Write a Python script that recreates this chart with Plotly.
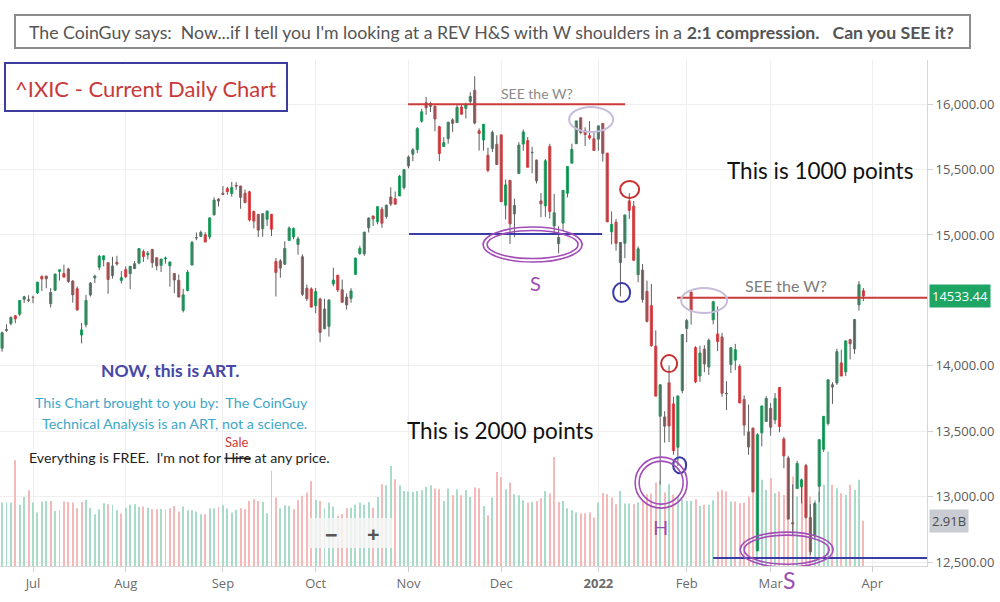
import math
import pandas as pd
import plotly.graph_objects as go

# ---------------- data ----------------
holidays = ["2021-07-05", "2021-09-06", "2021-11-25", "2021-12-24",
            "2022-01-17", "2022-02-21", "2022-04-15"]

open_ = [14135,14278,14323,14383,14395,14509,14500,14524,14558,14683,14686,14475,14578,14722,14706,14740,14648,14589,14236,14314,
         14542,14672,14754,14810,14788,14690,14791,14653,14735,14704,14743,14785,14873,14848,14890,14826,14768,14818,14764,14706,
         14653,14424,14576,14770,14978,14990,15002,14985,15154,15274,15318,15354,15317,15378,15374,15319,15329,15179,15157,15048,
         15120,15158,14798,14802,14777,14958,14985,14928,14833,14593,14588,14460,14511,14283,14303,14626,14693,14581,14525,14516,
         14699,14858,14856,15055,15144,15100,15197,15140,15290,15276,15298,15361,15527,15617,15652,15869,16009,16003,15983,15826,
         15676,15735,15879,15858,15977,15967,16020,16104,15795,15725,15609,15661,15692,15764,15227,15417,15161,15469,15694,15721,
         15628,15572,15260,15222,15676,15069,14934,15091,15319,15548,15697,15895,15795,15758,15734,15732,15852,15625,15024,15098,
         14789,14936,15260,15220,14697,14732,14569,14460,14151,13616,13610,13871,13710,13379,13812,14286,14564,14139,13923,14128,
         13992,14352,14244,14221,13787,14011,14044,13996,13743,13496,13525,12587,13489,13576,13675,13587,13835,13442,13296,12803,
         13063,13077,13240,12842,12705,13081,13363,13560,13856,13870,14023,13955,14200,14130,14466,14574]
high = [14262,14318,14378,14388,14500,14535,14539,14536,14643,14691,14688,14594,14705,14734,14773,14750,14654,14607,14328,14542,
        14641,14696,14848,14844,14793,14833,14841,14724,14760,14761,14801,14896,14888,14878,14890,14826,14817,14835,14796,14707,
        14698,14589,14732,14954,15019,15034,15020,15135,15288,15280,15374,15368,15405,15403,15374,15347,15337,15186,15157,15167,
        15187,15158,14824,14815,14951,15066,15058,14987,14852,14621,14600,14595,14521,14513,14511,14750,14693,14659,14554,14594,
        14827,14917,15023,15134,15149,15216,15214,15231,15364,15332,15459,15504,15607,15664,15824,15963,16054,16017,15988,15834,
        15747,15864,15891,16000,15994,16010,16090,16212,15814,15848,15667,15798,15761,15767,15423,15421,15277,15708,15805,15748,
        15673,15575,15321,15579,15696,15313,15066,15341,15522,15697,15871,15896,15822,15869,15784,15833,15852,15626,15180,15122,
        14946,15153,15319,15259,14913,14778,14651,14626,14272,13858,13654,14003,13765,13771,14242,14359,14566,14151,14154,14158,
        14210,14497,14455,14252,13883,14141,14168,14013,13775,13705,13529,13486,13697,13769,13716,13793,13838,13458,13314,13095,
        13275,13140,13252,12944,12960,13437,13616,13895,13876,14131,14124,14193,14207,14356,14647,14595]
low = [14108,14258,14310,14326,14380,14480,14487,14479,14549,14572,14593,14446,14572,14652,14676,14635,14483,14420,14172,14294,
       14530,14632,14731,14760,14551,14667,14766,14629,14670,14586,14740,14776,14794,14814,14750,14730,14717,14781,14605,14555,
       14524,14408,14569,14769,14960,14984,14945,14967,15148,15218,15305,15307,15293,15345,15200,15241,15102,15050,14984,14986,
       15069,14991,14530,14673,14770,14958,14967,14849,14533,14495,14447,14402,14181,14283,14224,14607,14564,14486,14430,14483,
       14697,14848,14840,15019,15069,15081,15054,15124,15221,15235,15297,15347,15509,15563,15625,15857,15917,15939,15791,15563,
       15674,15697,15787,15854,15920,15889,15999,15845,15644,15644,15480,15633,15537,15254,15119,14931,14984,15469,15643,15516,
       15471,15393,15135,15138,15126,15005,14860,15031,15287,15548,15697,15769,15679,15727,15644,15644,15560,15100,14928,14880,
       14531,14823,15122,14800,14639,14484,14331,14146,13770,13095,13414,13419,13322,13236,13790,14181,14315,13868,13878,13952,
       13931,14317,14113,13764,13662,13946,13967,13716,13467,13321,13037,12587,13385,13573,13467,13555,13493,13218,12830,12708,
       13063,12950,12835,12555,12687,12960,13343,13545,13710,13855,13921,13922,14050,14092,14422,14495]
close = [14253,14272,14370,14360,14500,14528,14504,14523,14639,14664,14665,14560,14701,14734,14678,14645,14543,14428,14275,14499,
         14632,14685,14837,14840,14660,14763,14778,14673,14681,14761,14780,14896,14835,14860,14788,14765,14816,14823,14794,14656,
         14526,14542,14715,14943,14979,15020,14946,15130,15266,15259,15310,15331,15363,15374,15287,15248,15115,15106,15037,15162,
         15182,15044,14714,14747,14897,15052,15048,14970,14547,14513,14449,14567,14256,14434,14502,14655,14580,14486,14465,14572,
         14823,14897,15022,15129,15122,15216,15090,15227,15236,15235,15448,15498,15595,15650,15812,15940,15971,15982,15886,15622,
         15705,15861,15853,15974,15922,15993,16057,15855,15775,15845,15492,15783,15538,15254,15382,15085,15225,15686,15786,15517,
         15630,15413,15237,15566,15180,15169,14981,15341,15522,15653,15871,15782,15767,15741,15645,15833,15623,15100,15081,14936,
         14943,15153,15188,14807,14894,14507,14341,14155,13769,13856,13540,13542,13353,13771,14240,14346,14417,13879,14098,14015,
         14195,14490,14186,13791,13790,14139,14124,13717,13548,13381,13037,13474,13694,13751,13532,13752,13537,13313,12830,12795,
         13255,13130,12843,12581,12949,13437,13615,13894,13838,14109,13923,14191,14169,14354,14620,14533.44]
prev_close_first = 14141
volume_b = [4.09,4.09,4.09,6.82,3.94,4.45,4.88,4.09,3.44,4.15,4.19,4.19,3.55,3.59,4.15,4.13,4.09,3.72,4.13,4.26,
            3.76,3.33,3.66,4.04,3.98,3.94,3.59,3.38,3.76,3.94,3.98,3.81,3.83,3.76,3.66,3.66,3.68,3.66,3.72,3.87,
            3.51,3.83,3.59,3.59,3.51,3.33,3.33,3.70,3.72,3.81,3.91,3.70,3.44,3.61,3.72,3.66,4.19,4.30,4.19,4.13,
            3.40,6.13,4.41,3.72,3.91,3.87,3.66,4.24,4.52,4.73,5.48,4.26,4.19,3.76,4.09,3.83,3.23,3.33,3.72,3.76,
            3.94,4.09,3.94,4.13,3.76,4.45,5.27,5.20,6.45,5.59,5.20,4.84,4.80,4.77,4.84,4.88,5.10,5.20,4.99,4.95,
            4.19,4.99,4.56,4.95,4.56,4.90,4.45,5.05,5.01,3.87,3.27,4.41,6.06,5.74,4.95,5.38,4.62,4.56,4.24,4.09,
            4.13,4.19,4.37,4.84,4.67,7.03,4.13,4.19,3.72,3.59,3.44,3.38,3.40,3.44,3.12,4.09,4.71,4.62,4.41,3.98,
            4.84,4.02,4.02,3.98,4.09,4.19,4.62,4.67,5.38,5.50,4.73,5.27,4.60,4.50,4.30,4.19,4.19,4.30,3.87,3.94,
            3.94,4.24,4.80,4.90,4.80,4.15,4.15,4.04,4.09,4.47,4.90,5.76,5.55,4.90,5.66,4.69,4.80,4.58,5.01,5.76,
            4.47,5.44,4.80,4.47,4.26,4.80,5.23,7.37,5.23,5.01,4.69,4.58,5.23,4.90,5.55,2.91]

tick_dates = ["2021-07-01", "2021-08-02", "2021-09-01", "2021-10-01", "2021-11-01",
              "2021-12-01", "2022-01-03", "2022-02-01", "2022-03-01", "2022-04-01"]
tick_text = ["Jul", "Aug", "Sep", "Oct", "Nov", "Dec", "<b>2022</b>", "Feb", "Mar", "Apr"]
price_ticks = [12500, 13000, 13500, 14000, 15000, 15500, 16000]

# ---------------- calendar helpers ----------------
cal = [d for d in pd.bdate_range("2021-06-22", "2022-05-20") if d.strftime("%Y-%m-%d") not in holidays]
N = len(close)
dates = [d + pd.Timedelta(hours=12) for d in cal[:N]]

def xd(f):
    k = int(math.floor(f + 0.5))
    off = f - k
    return (cal[k] + pd.Timedelta(hours=12) + pd.Timedelta(days=off)).strftime("%Y-%m-%d %H:%M:%S")

# pixel helpers for decorations (plot area: x 0..927, y 60..566)
PW, PT, PB = 927.0, 60.0, 566.0
def fx(px):  # pixel -> bar index
    return (px - 2.09) / 4.416
def fy(py):  # pixel -> price
    return 16000 - (py - 104) / 0.1309
def X(px):
    return px / PW
def Y(py):
    return (PB - py) / (PB - PT)

GREEN = "#22a565"
RED = "#e2474b"
VGREEN = "#a8dcc9"
VRED = "#f4b9b9"

fig = go.Figure()

# volume (primary hidden axis)
prev = [prev_close_first] + close[:-1]
vcol = [VGREEN if c >= p else VRED for c, p in zip(close, prev)]
fig.add_trace(go.Bar(x=dates, y=volume_b, marker=dict(color=vcol, line=dict(width=0)),
                     width=0.22 * 86400000, yaxis="y", hoverinfo="skip", showlegend=False))

# wicks
wx, wy = [], []
for d, h, l in zip(dates, high, low):
    wx += [d, d, None]
    wy += [l, h, None]
fig.add_trace(go.Scatter(x=wx, y=wy, mode="lines", line=dict(color="#5e5e5e", width=1),
                         yaxis="y2", hoverinfo="skip", showlegend=False))

# bodies
body_hi = [max(o, c) for o, c in zip(open_, close)]
body_lo = [min(o, c) for o, c in zip(open_, close)]
fig.add_trace(go.Candlestick(x=dates, open=open_, high=body_hi, low=body_lo, close=close, yaxis="y2",
                             increasing=dict(line=dict(color=GREEN, width=1), fillcolor=GREEN),
                             decreasing=dict(line=dict(color=RED, width=1), fillcolor=RED),
                             whiskerwidth=0, showlegend=False))

shapes = []
annotations = []

def hline(px0, px1, price, color, w=2):
    shapes.append(dict(type="line", xref="x", yref="y2", x0=xd(fx(px0)), x1=xd(fx(px1)),
                       y0=price, y1=price, line=dict(color=color, width=w), layer="above"))

def ell(px0, py0, px1, py1, color, w=1.6):
    shapes.append(dict(type="circle", xref="x", yref="y2", x0=xd(fx(px0)), x1=xd(fx(px1)),
                       y0=fy(py1), y1=fy(py0), line=dict(color=color, width=w), layer="above"))

PURPLE = "#a24db8"
LAV = "#c7bcd9"
DRED = "#c6302f"
DBLUE = "#3b3ba6"

hline(408, 625, 15998, "#cc3b3b")
hline(409, 602, 15007, DBLUE)
hline(677, 927, 14520, "#cc3b3b")
hline(713, 927, 12534, DBLUE)

ell(483, 227, 582, 262, PURPLE)
ell(487, 230.5, 578, 258.5, PURPLE)
ell(569, 107, 613, 132, LAV, 2)
ell(620, 181, 639, 198, DRED, 2)
ell(613, 283, 630, 302, DBLUE, 2)
ell(681, 288, 727, 313, LAV, 2)
ell(661, 355, 677, 372, DRED, 2)
ell(673, 457, 686, 473, DBLUE, 2)
ell(635, 457, 687, 508, PURPLE)
ell(639, 461, 683, 504, PURPLE)
ell(740, 532, 833, 567, PURPLE)
ell(744, 535, 829, 564, PURPLE)

# boxes in paper coords
shapes.append(dict(type="rect", xref="paper", yref="paper", x0=X(15), x1=X(970), y0=Y(48), y1=Y(15),
                   line=dict(color="#8c8c8c", width=2), fillcolor="white", layer="above"))
shapes.append(dict(type="rect", xref="paper", yref="paper", x0=X(5), x1=X(287), y0=Y(111), y1=Y(63),
                   line=dict(color="#3d3d9e", width=2), fillcolor="white", layer="above"))
shapes.append(dict(type="rect", xref="paper", yref="paper", x0=X(308), x1=X(392), y0=Y(548), y1=Y(518),
                   line=dict(width=0), fillcolor="rgba(246,246,246,0.85)", layer="above"))

CAL = "Lato"

def ann(text, px, py, size, color, family=CAL, **kw):
    d = dict(xref="paper", yref="paper", x=X(px), y=Y(py), text=text, showarrow=False,
             font=dict(size=size, color=color, family=family), xanchor="center", yanchor="middle")
    d.update(kw)
    annotations.append(d)

NB = "\u00a0"
ann("The CoinGuy says:" + NB * 2 + "Now...if I tell you I'm looking at a REV H&amp;S with W shoulders in a "
    "<b>2:1 compression." + NB * 3 + "Can you SEE it?</b>", 491, 32, 17.7, "#555555")
ann("^IXIC - Current Daily Chart", 145, 88, 22, "#c83a3a")
ann("SEE the W?", 537, 94, 14, "#8a8a8a")
ann("This is 1000 points", 820, 170, 22.5, "#111111")
ann("SEE the W?", 786, 285, 16, "#7d7d7d")
ann("S", 535, 283, 20, "#9b4db0")
ann("<b>NOW, this is ART.</b>", 170, 370, 17.5, "#4747a6")
ann("This Chart brought to you by:" + NB * 2 + "The CoinGuy", 171, 402, 14.3, "#3ea6c8")
ann("Technical Analysis is an ART, not a science.", 174, 423, 14.3, "#3ea6c8")
ann("Everything is FREE." + NB * 2 + "I'm not for <s>Hire</s> at any price.", 179, 457, 14.2, "#1e1e1e")
ann("Sale", 236, 442, 13, "#cc3b3b")
ann("This is 2000 points", 500, 430, 22.5, "#111111")
ann("H", 660, 527, 20, "#9b4db0")
ann("S", 789, 580, 23, "#9b4db0")
ann("<b>\u2212</b>", 331, 534, 22, "#555555", family="Open Sans")
ann("<b>+</b>", 373, 533, 22, "#555555", family="Open Sans")

# price and volume labels on the right axis
annotations.append(dict(xref="paper", yref="y2", x=1, y=close[-1], text="14533.44", showarrow=False,
                        xanchor="left", yanchor="middle", xshift=2, bgcolor="#1ea463", borderpad=2,
                        font=dict(size=13, color="white", family="Open Sans")))
annotations.append(dict(xref="paper", yref="y", x=1, y=volume_b[-1], text="2.91B", showarrow=False,
                        xanchor="left", yanchor="middle", xshift=2, bgcolor="#c9ccd3", borderpad=2,
                        font=dict(size=13, color="#4a4a4a", family="Open Sans")))

fig.update_layout(
    width=1000, height=602,
    margin=dict(l=0, r=73, t=60, b=36),
    paper_bgcolor="white", plot_bgcolor="white",
    showlegend=False, shapes=shapes, annotations=annotations,
    xaxis=dict(type="date", range=[xd(-0.47), xd(209.4)],
               rangebreaks=[dict(bounds=["sat", "mon"]), dict(values=holidays)],
               tickvals=[pd.Timestamp(t) + pd.Timedelta(hours=12) for t in tick_dates], ticktext=tick_text,
               showgrid=True, gridcolor="#efefef", gridwidth=1,
               ticks="outside", ticklen=5, tickcolor="#d0d0d0",
               showline=True, linecolor="#d6d6d6", linewidth=1,
               tickfont=dict(size=13, color="#6b6b6b", family="Open Sans"),
               rangeslider=dict(visible=False), fixedrange=True),
    yaxis=dict(range=[0, 32.6], visible=False, showgrid=False, fixedrange=True),
    yaxis2=dict(overlaying="y", side="right", range=[12472, 16336],
                tickvals=price_ticks, tickformat=",.2f",
                showgrid=True, gridcolor="#efefef", gridwidth=1,
                ticks="outside", ticklen=5, tickcolor="#d0d0d0",
                showline=True, linecolor="#d6d6d6", linewidth=1,
                tickfont=dict(size=13, color="#5a5a5a", family="Open Sans"), fixedrange=True),
)

fig.write_html("out.html")
